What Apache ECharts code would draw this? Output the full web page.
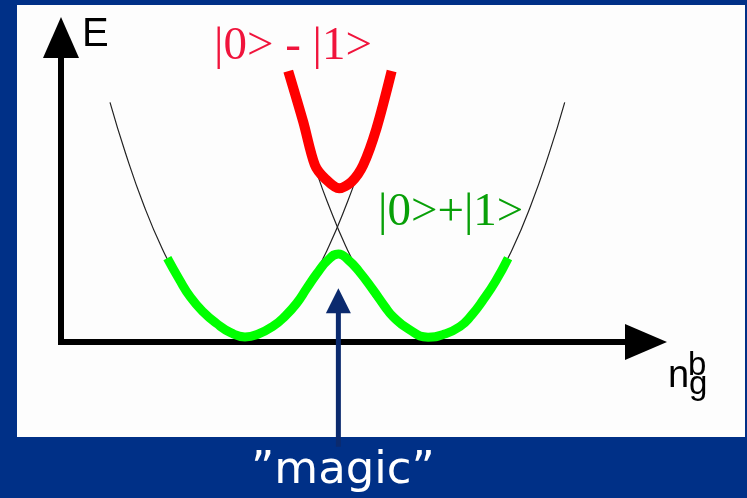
<!DOCTYPE html>
<html>
<head>
<meta charset="utf-8">
<script src="https://cdn.jsdelivr.net/npm/echarts@6/dist/echarts.min.js"></script>
<style>
  html, body { margin: 0; padding: 0; background: #003087; }
  #main { width: 747px; height: 498px; }
</style>
</head>
<body>
<div id="main"></div>
<script>
  // charge axis n_g (vertices of the two parabolas near 1 and 2), energy in arbitrary units
  var leftParabolaX = [0.265, 0.35, 0.45, 0.55, 0.65, 0.75, 0.85, 0.95, 1.05, 1.15, 1.25, 1.35, 1.45, 1.55, 1.60];
  var leftParabolaE = [8.44, 6.63, 4.78, 3.25, 2.02, 1.11, 0.51, 0.21, 0.23, 0.55, 1.19, 2.13, 3.39, 4.95, 5.85];

  var rightParabolaX = [1.39, 1.44, 1.54, 1.64, 1.74, 1.84, 1.94, 2.04, 2.14, 2.24, 2.34, 2.44, 2.54, 2.64, 2.724];
  var rightParabolaE = [5.83, 4.94, 3.37, 2.12, 1.18, 0.55, 0.23, 0.21, 0.51, 1.12, 2.04, 3.26, 4.80, 6.65, 8.44];

  // |0>+|1>  (lower band, green)
  var plusX = [0.575, 0.64, 0.70, 0.77, 0.84, 0.92, 0.995, 1.07, 1.148, 1.21, 1.274, 1.33, 1.385, 1.44, 1.50,
               1.555, 1.61, 1.688, 1.75, 1.796, 1.88, 1.985, 2.07, 2.157, 2.22, 2.283, 2.35, 2.418];
  var plusE = [2.95, 2.20, 1.58, 1.05, 0.66, 0.32, 0.18, 0.29, 0.56, 0.90, 1.36, 1.90, 2.42, 2.86, 3.10,
               2.88, 2.50, 1.83, 1.26, 0.89, 0.45, 0.17, 0.27, 0.54, 0.94, 1.48, 2.14, 2.95];

  // |0> - |1>  (upper band, red)
  var minusX = [1.229, 1.310, 1.373, 1.427, 1.504, 1.571, 1.634, 1.706, 1.788];
  var minusE = [9.54, 7.75, 6.23, 5.76, 5.41, 5.64, 6.23, 7.52, 9.54];

  // "magic" point arrow
  var magicX = 1.5;
  var arrowE = [-3.69, 1.45];

  function zip(xs, ys) {
    return xs.map(function (x, i) { return [x, ys[i]]; });
  }

  function label(text, x, y, size, family, color) {
    return {
      type: 'text', z: 100, x: x, y: y,
      style: { text: text, fontSize: size, fontFamily: family, fill: color, verticalAlign: 'middle', align: 'left' }
    };
  }

  var chart = echarts.init(document.getElementById('main'));
  chart.setOption({
    backgroundColor: '#003087',
    animation: false,
    grid: { left: 61, right: 122, top: 58, bottom: 156 },
    xAxis: {
      type: 'value', min: 0, max: 3.05,
      splitLine: { show: false }, axisTick: { show: false }, axisLabel: { show: false },
      axisLine: {
        lineStyle: { color: '#000', width: 6, cap: 'square' },
        symbol: ['none', 'triangle'],
        symbolSize: [36, 42],
        symbolOffset: [0, 21]
      }
    },
    yAxis: {
      type: 'value', min: 0, max: 10,
      splitLine: { show: false }, axisTick: { show: false }, axisLabel: { show: false },
      axisLine: {
        lineStyle: { color: '#000', width: 6, cap: 'square' },
        symbol: ['none', 'triangle'],
        symbolSize: [36, 41],
        symbolOffset: [0, 20.5]
      }
    },
    graphic: [
      { type: 'rect', z: -10, shape: { x: 17, y: 5, width: 728, height: 432 }, style: { fill: '#fdfdfd' } },
      label('E', 82, 35, 40, 'Liberation Sans', '#000'),
      label('n', 668, 377, 38, 'Liberation Sans', '#000'),
      label('b', 688, 366, 33, 'Liberation Sans', '#000'),
      label('g', 689, 385, 33, 'Liberation Sans', '#000'),
      label('|0> - |1>', 214, 46.6, 47, 'Liberation Serif', '#f0143c'),
      label('|0>+|1>', 378, 212.4, 47, 'Liberation Serif', '#08a008'),
      label('\u201dmagic\u201d', 251, 471, 45, 'DejaVu Sans', '#ffffff')
    ],
    series: [
      {
        name: 'charge state 0', type: 'line', smooth: 0.5, symbol: 'none',
        lineStyle: { color: '#222', width: 1.2 },
        data: zip(leftParabolaX, leftParabolaE)
      },
      {
        name: 'charge state 1', type: 'line', smooth: 0.5, symbol: 'none',
        lineStyle: { color: '#222', width: 1.2 },
        data: zip(rightParabolaX, rightParabolaE)
      },
      {
        name: '|0>+|1>', type: 'line', smooth: 0.5, symbol: 'none',
        lineStyle: { color: '#00ff00', width: 9, join: 'round' },
        data: zip(plusX, plusE)
      },
      {
        name: '|0> - |1>', type: 'line', smooth: 0.3, symbol: 'none',
        lineStyle: { color: '#ff0000', width: 10, join: 'round' },
        data: zip(minusX, minusE)
      },
      {
        name: 'magic', type: 'line', clip: false, showSymbol: true, symbol: 'none',
        lineStyle: { color: '#0b2a6e', width: 5 },
        itemStyle: { color: '#0b2a6e' },
        data: [
          { value: [magicX, arrowE[0]] },
          { value: [magicX, arrowE[1]], symbol: 'triangle', symbolSize: [25, 25] }
        ]
      }
    ]
  });
</script>
</body>
</html>
